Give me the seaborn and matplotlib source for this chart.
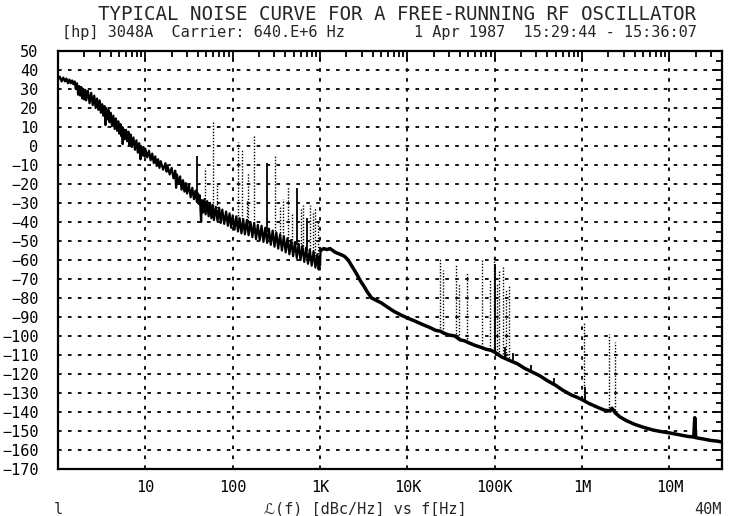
import numpy as np
import pandas as pd
import seaborn as sns
import matplotlib.pyplot as plt
from matplotlib.ticker import MultipleLocator, LogLocator, NullFormatter, FixedLocator
import matplotlib.transforms as mtransforms

# main noise trace (Hz, dBc/Hz)
freq_hz = [1.00, 1.05, 1.10, 1.15, 1.20, 1.25, 1.30, 1.35, 1.40, 1.45, 1.50, 1.55, 1.60, 1.65,
           1.70, 1.75, 1.80, 1.85, 1.90, 1.95, 2.00, 2.05, 2.10, 2.20, 2.30, 2.40, 2.50, 2.60,
           2.70, 2.80, 2.90, 3.00, 3.10, 3.20, 3.30, 3.40, 3.50, 3.55, 3.70, 3.80, 3.90, 4.00,
           4.15, 4.30, 4.45, 4.60, 4.75, 4.90, 5.05, 5.20, 5.35, 5.45, 5.50, 5.60, 5.80, 6.00,
           6.20, 6.40, 6.60, 6.80, 7.00, 7.30, 7.60, 7.90, 8.20, 8.50, 8.80, 8.90, 9.20, 9.50,
           9.80, 10.0,
           10.5, 11, 11.5, 12, 12.5, 13, 13.5, 14, 14.5, 15, 16, 17, 17.5, 18, 19, 20, 21, 22,
           22.5, 23, 24, 25, 26, 27, 28, 29, 30, 31.5, 33, 34.5, 36, 37.5, 39, 40, 41, 42,
           43.5, 44.5, 46, 47.5, 49, 51, 53, 55, 57, 59, 61, 64, 67, 70, 73, 76, 80, 84, 88,
           92, 96, 100,
           105, 110, 115, 120, 126, 132, 138, 145, 152, 160, 168, 176, 185, 194, 204, 214, 225,
           236, 248, 260, 273, 287, 301, 316, 332, 349, 366, 385, 404, 424, 446, 468, 492, 516,
           542, 570, 598, 628, 660, 693, 728, 764, 803, 843, 885, 930, 965, 990, 1000, 1015,
           1100, 1200, 1300, 1400, 1500, 1700, 1900, 2100, 2300, 2600, 2900, 3200, 3500, 3900,
           4300, 5000, 6000, 7000, 8500, 10e3, 12e3, 15e3, 18e3, 21e3, 24e3, 26e3, 30e3, 35e3,
           40e3, 45e3, 50e3, 60e3, 70e3, 80e3, 90e3, 100e3, 120e3, 150e3, 180e3, 220e3, 270e3,
           330e3, 400e3, 500e3, 600e3, 750e3, 900e3, 1.0e6, 1.2e6, 1.5e6, 1.8e6, 2.1e6, 2.2e6,
           2.4e6, 2.7e6, 3.2e6, 4.0e6, 5.0e6, 6.5e6, 8.0e6, 10e6, 13e6, 16e6, 19e6, 19.5e6,
           20e6, 25e6, 30e6, 35e6, 40e6]
level_db = [35, 36.5, 34, 36, 34, 35.5, 33, 35, 33, 34.5, 32.5, 34, 30, 33,
            27, 31.5, 26.5, 31, 25, 30, 24.5, 29.5, 24, 29, 22.5, 28, 21.5, 26.5,
            20, 25, 19, 24, 17.5, 22, 16, 21, 11, 20, 14, 19, 12.5, 17.5,
            10.5, 16, 9, 14.5, 8, 13, 6.5, 11.5, 5, 10, 1, 9, 3.5, 8.5,
            2.5, 7.5, 0.5, 6, -0.5, 4.5, -2, 3, -3.5, 1.5, -7, 0, -5, -0.5,
            -5.5, -1.5,
            -6, -2.5, -7.5, -4, -9, -5.5, -10.5, -7, -11.5, -8, -12.5, -9, -13.5, -10.5, -15, -11.5, -17, -13,
            -22, -15, -20, -16, -23, -18, -24, -19.5, -25, -20.5, -27, -22, -28, -23.5, -29.5, -25, -30.5, -26,
            -40, -28.5, -35, -28, -36, -29, -37, -30, -38, -31, -39, -32, -39.5, -32.5, -40.5, -33.5, -41, -34.5, -42,
            -35.5, -43, -36.5,
            -44, -37, -45, -38, -46, -38.5, -46.5, -39, -47, -40, -48, -40.5, -49, -41.5, -49.5, -42, -50.5,
            -43, -51, -43.5, -52, -44.5, -53, -45.5, -54, -46.5, -55, -47.5, -56, -48.5, -57, -49.5, -58, -50.5,
            -59, -51.5, -60, -52.5, -61, -53.5, -62, -54.5, -63, -55.5, -64, -57, -65, -58, -63, -55,
            -54, -54.5, -54, -55, -56, -57, -58, -60, -63, -67, -71, -74, -77, -80,
            -81, -82.5, -85, -87, -89, -90.5, -92, -94, -95.5, -97, -97.5, -98.5, -99.5, -100,
            -102, -102.5, -103.5, -105, -106, -107, -107.5, -108.5, -111, -113, -114.5, -117, -119,
            -121, -123.5, -126, -128.5, -131, -132.5, -133.5, -135.5, -137.5, -139, -139.5, -138,
            -140.5, -142.5, -144.5, -146.5, -148, -149.5, -150.3, -151, -152, -152.8, -153.2, -143,
            -153.5, -154.3, -155, -155.3, -155.8]

# discrete spurs: frequency, foot, tip, solid?
spur_hz = [39, 48.5, 60, 66, 116, 127, 145, 150, 174, 246, 306, 349, 380, 434, 480, 541,
           600, 646, 700, 769, 830, 877, 940,
           23.8e3, 25.5e3, 36e3, 39e3, 48e3, 72e3, 88e3, 97e3, 100e3, 105e3, 112e3, 123e3,
           135e3, 147e3, 130e3, 160e3, 260e3, 480e3,
           1.05e6, 1.08e6, 2.05e6, 2.4e6]
spur_foot = [-27, -31, -33, -34, -40, -40, -42, -41, -42, -45, -48, -49, -49, -50, -51, -52,
             -53, -54, -55, -56, -57, -58, -60,
             -97.5, -98, -100.5, -101, -103, -106, -107, -108, -108.5, -109, -110, -111,
             -112, -113, -111.5, -113.5, -118.5, -125.5,
             -134, -134, -139.5, -140.5]
spur_tip = [-5, -11.5, 13, -20, 2, -2, -29, -14, 5.7, -9, -5.5, -32, -28, -21, -36, -22,
            -33, -31, -38, -31, -34, -32, -40,
            -59, -65, -62, -72, -67, -60, -70, -58, -62, -72, -66, -63.5,
            -76, -73, -106, -109, -115, -122,
            -93, -127, -99, -103]
spur_solid = [1, 0, 0, 0, 0, 0, 0, 0, 0, 1, 0, 0, 0, 0, 0, 1,
              0, 0, 1, 0, 0, 0, 0,
              0, 0, 0, 0, 0, 0, 0, 0, 1, 0, 0, 0,
              0, 0, 1, 1, 1, 1,
              0, 1, 0, 0]

xtick_pos = [10, 100, 1e3, 1e4, 1e5, 1e6, 1e7]
xtick_lab = ['10', '100', '1K', '10K', '100K', '1M', '10M']

sns.set_style('white')
plt.rcParams['font.family'] = ['DejaVu Sans Mono', 'DejaVu Sans']

fig = plt.figure(figsize=(7.39, 5.16), dpi=100)
ax = fig.add_axes([58 / 739, 1 - 469 / 516, (722 - 58) / 739, (469 - 51) / 516])

df = pd.DataFrame({'f': freq_hz, 'L': level_db})
# noisy close-in part thinner, smooth far-out part drawn bold like the plotter pen
sns.lineplot(data=df[df.f <= 1015], x='f', y='L', ax=ax, color='k', lw=1.6,
             estimator=None, sort=False)
sns.lineplot(data=df[df.f >= 1015], x='f', y='L', ax=ax, color='k', lw=2.5,
             estimator=None, sort=False)

for f, lo, hi, s in zip(spur_hz, spur_foot, spur_tip, spur_solid):
    ax.vlines(f, lo, hi, colors='k', lw=1.3 if s else 1.0,
              linestyles='-' if s else (0, (1, 1.2)))

ax.set_xscale('log')
ax.set_xlim(1, 40e6)
ax.set_ylim(-170, 50)
ax.yaxis.set_major_locator(MultipleLocator(10))
ax.yaxis.set_minor_locator(MultipleLocator(5))
ax.xaxis.set_major_locator(FixedLocator(xtick_pos))
ax.xaxis.set_minor_locator(LogLocator(base=10, subs=np.arange(2, 10)))
ax.xaxis.set_minor_formatter(NullFormatter())
ax.set_xticklabels(xtick_lab)
ax.grid(which='major', color='k', lw=1.3, ls=(0, (2, 3.5)))
ax.tick_params(which='both', direction='in', top=True, right=True, colors='k',
               labelsize=11, width=1.3)
ax.tick_params(axis='y', which='major', length=7, pad=14)
ax.tick_params(axis='x', which='major', length=7, pad=8)
ax.tick_params(which='minor', length=4)
for sp in ax.spines.values():
    sp.set_color('k')
    sp.set_linewidth(1.6)
ax.set_xlabel('')
ax.set_ylabel('')

tr = mtransforms.blended_transform_factory(ax.transData, fig.transFigure)
ax.text(1, 1 - 509 / 516, 'l', transform=tr, ha='center', va='center', fontsize=11)
ax.text(40e6, 1 - 509 / 516, '40M', transform=tr, ha='right', va='center', fontsize=11)
fig.text(365 / 739, 1 - 509 / 516, 'ℒ(f) [dBc/Hz] vs f[Hz]', ha='center', va='center',
         fontsize=11)

fig.text(397 / 739, 1 - 15 / 516, 'TYPICAL NOISE CURVE FOR A FREE-RUNNING RF OSCILLATOR',
         ha='center', va='center', fontsize=13.8)
fig.text(62 / 739, 1 - 33 / 516, '[hp] 3048A  Carrier: 640.E+6 Hz', ha='left', va='center',
         fontsize=11)
fig.text(697 / 739, 1 - 33 / 516, '1 Apr 1987  15:29:44 - 15:36:07', ha='right',
         va='center', fontsize=11)

fig.savefig('out.png', dpi=100)
